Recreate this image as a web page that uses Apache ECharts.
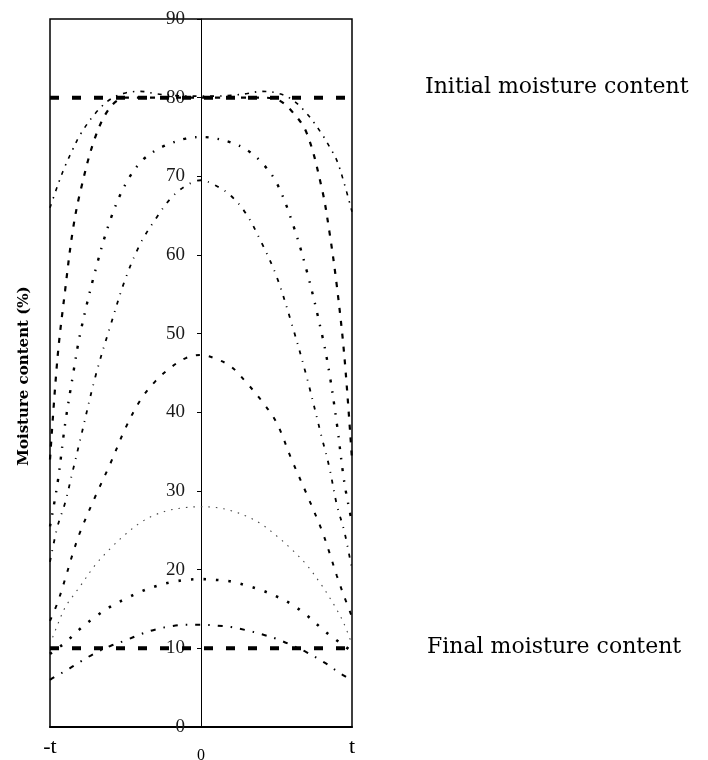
<!DOCTYPE html>
<html>
<head>
<meta charset="utf-8">
<script src="https://cdn.jsdelivr.net/npm/echarts@6/dist/echarts.min.js"></script>
<style>
  html, body { margin: 0; padding: 0; background: #fff; }
  #chart { width: 708px; height: 760px; }
</style>
</head>
<body>
<div id="chart"></div>
<script>
// Position across the thickness (-t .. t mapped to -1 .. 1)
const xs = [-1, -0.95, -0.9, -0.85, -0.8, -0.7, -0.6, -0.5, -0.4, -0.3, -0.2, -0.1, 0,
            0.1, 0.2, 0.3, 0.4, 0.5, 0.6, 0.7, 0.8, 0.85, 0.9, 0.95, 1];
const xTickLabels = ['-t', '0', 't'];
const yAxisTitle = 'Moisture content (%)';
const initialLabel = 'Initial moisture content';
const finalLabel = 'Final moisture content';

const initialMoisture = 80;
const finalMoisture = 10;

// Moisture profiles (%) at successive drying times
const profileA1 = [66, 68.8, 71.3, 73.4, 75.3, 78, 79.8, 80.6, 80.8, 80.5, 80.3, 80.2, 80.2,
                   80.2, 80.3, 80.5, 80.8, 80.6, 79.8, 78, 75.4, 73.8, 72, 69, 65.5];
const profileA2 = [34, 47, 55.5, 63, 68, 75, 78.8, 80, 80, 80, 80, 80, 80,
                   80, 80, 80, 80, 79.8, 78.3, 75.5, 68.5, 63, 56, 47, 34];
const profileB  = [25.5, 31, 38.5, 44.5, 50, 58, 64.5, 69, 71.8, 73.3, 74.2, 74.8, 75,
                   74.8, 74.3, 73.4, 71.8, 69.2, 64.4, 58, 50, 45, 38.5, 31, 26];
const profileC  = [21, 25.5, 28.5, 32.5, 36.5, 44.5, 51, 57, 61.5, 64.6, 67.2, 68.8, 69.5,
                   68.8, 67.5, 65.2, 61.6, 57.3, 51.3, 44.5, 36.8, 33, 28.2, 24.8, 20];
const profileD  = [13.5, 15.8, 18.8, 22, 24.8, 29.3, 33.5, 38, 41.6, 44, 45.7, 46.9, 47.3,
                   46.8, 45.8, 43.8, 41.5, 38.7, 34, 29.6, 25, 22.2, 19.2, 16.5, 14];
const profileE  = [10.5, 13, 15.2, 16.6, 17.9, 20.6, 22.7, 24.5, 26, 27, 27.6, 27.9, 28,
                   27.9, 27.5, 26.8, 25.8, 24.3, 22.6, 20.6, 18, 16.5, 14.9, 13, 10.5];
const profileF  = [9.3, 10, 10.7, 11.6, 12.5, 14, 15.3, 16.3, 17.2, 17.9, 18.4, 18.7, 18.8,
                   18.7, 18.5, 18, 17.4, 16.6, 15.6, 14.2, 12.5, 11.7, 11, 10.3, 9.6];
const profileG  = [6, 6.6, 7.1, 7.7, 8.3, 9.4, 10.3, 11, 11.8, 12.4, 12.8, 13, 13,
                   12.9, 12.7, 12.3, 11.8, 11.2, 10.4, 9.5, 8.4, 7.8, 7.1, 6.5, 5.9];

const pair = vals => xs.map((x, i) => [x, vals[i]]);
const flat = v => [[xs[0], v], [xs[xs.length - 1], v]];

function curve(vals, width, dash, color) {
  return {
    type: 'line', data: pair(vals), smooth: 0.35, symbol: 'none', silent: true,
    lineStyle: { color: color || '#000', width: width, type: dash }
  };
}

const GRID_LEFT = 50, GRID_RIGHT = 356, CHART_W = 708;
const halfWidth = (CHART_W - GRID_LEFT - GRID_RIGHT) / 2;

const chart = echarts.init(document.getElementById('chart'));
chart.setOption({
  animation: false,
  backgroundColor: '#fff',
  grid: { left: GRID_LEFT, right: GRID_RIGHT, top: 19, bottom: 33, show: true,
          containLabel: false, outerBoundsMode: 'none',
          borderColor: '#000', borderWidth: 1.5, backgroundColor: 'transparent' },
  xAxis: {
    type: 'value', min: -1, max: 1, interval: 1,
    axisLine: { onZero: false, lineStyle: { color: '#000', width: 2 } },
    axisTick: { show: false },
    splitLine: { show: false },
    axisLabel: {
      margin: 9, color: '#000', fontFamily: 'Liberation Serif', fontSize: 22,
      formatter: v => v === 0 ? '{z|' + xTickLabels[1] + '}' : xTickLabels[Math.round(v) + 1],
      rich: { z: { fontFamily: 'Liberation Serif', fontSize: 16, color: '#000', padding: [12, 0, 0, 0] } }
    }
  },
  yAxis: {
    type: 'value', min: 0, max: 90, interval: 10, position: 'left', offset: -halfWidth,
    axisLine: { show: true, onZero: false, lineStyle: { color: '#000', width: 1 } },
    axisTick: { show: true, length: 4, lineStyle: { color: '#000' } },
    splitLine: { show: false },
    axisLabel: { margin: 16, color: '#1a1a1a', fontFamily: 'Liberation Serif', fontSize: 19 }
  },
  graphic: [
    { type: 'text', x: 24, y: 376, rotation: Math.PI / 2,
      style: { text: yAxisTitle, fontFamily: 'DejaVu Serif', fontWeight: 'bold', fontSize: 15,
               fill: '#000', align: 'center', verticalAlign: 'middle' } },
    { type: 'text', x: 425, y: 87,
      style: { text: initialLabel, fontFamily: 'DejaVu Serif', fontSize: 22,
               fill: '#000', align: 'left', verticalAlign: 'middle' } },
    { type: 'text', x: 427, y: 647,
      style: { text: finalLabel, fontFamily: 'DejaVu Serif', fontSize: 22,
               fill: '#000', align: 'left', verticalAlign: 'middle' } }
  ],
  series: [
    { type: 'line', data: flat(initialMoisture), symbol: 'none', silent: true,
      lineStyle: { color: '#000', width: 4, type: [9, 13] } },
    { type: 'line', data: flat(finalMoisture), symbol: 'none', silent: true,
      lineStyle: { color: '#000', width: 4, type: [9, 13] } },
    curve(profileA1, 1.6, [4, 6, 1.5, 6]),
    curve(profileA2, 2.2, [5, 8]),
    curve(profileB, 2.4, [3, 9, 1.5, 9]),
    curve(profileC, 1.8, [4, 7, 1, 7]),
    curve(profileD, 2, [4, 9]),
    curve(profileE, 1.1, [1.5, 6], '#444'),
    curve(profileF, 2.6, [2.5, 10]),
    curve(profileG, 2, [5, 8, 1.5, 8])
  ]
});
</script>
</body>
</html>
